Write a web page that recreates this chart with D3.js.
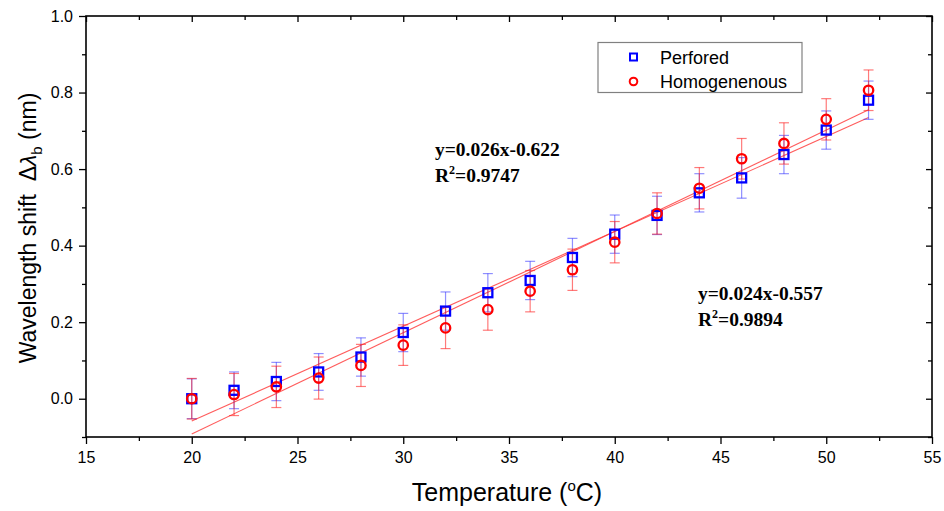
<!DOCTYPE html>
<html>
<head>
<meta charset="utf-8">
<script src="https://cdn.jsdelivr.net/npm/d3@7/dist/d3.min.js"></script>
<style>
  body { margin: 0; background: #fff; }
  svg { display: block; }
</style>
</head>
<body>
<div id="chart"></div>
<script>
// ── Data ─────────────────────────────────────────────────────────
const temps = [20, 22, 24, 26, 28, 30, 32, 34, 36, 38, 40, 42, 44, 46, 48, 50, 52];
const perfored = [0.0, 0.022, 0.045, 0.07, 0.109, 0.173, 0.229, 0.277, 0.309, 0.369, 0.43, 0.479, 0.538, 0.577, 0.638, 0.702, 0.78];
const homogen = [0.0, 0.011, 0.031, 0.054, 0.087, 0.14, 0.185, 0.233, 0.281, 0.337, 0.409, 0.484, 0.55, 0.627, 0.667, 0.73, 0.806];
const perforedErr = [0.052, 0.048, 0.05, 0.048, 0.05, 0.05, 0.05, 0.05, 0.05, 0.05, 0.05, 0.05, 0.05, 0.053, 0.05, 0.05, 0.05];
const homogenErr = [0.053, 0.055, 0.054, 0.055, 0.055, 0.053, 0.054, 0.054, 0.054, 0.054, 0.054, 0.054, 0.054, 0.053, 0.054, 0.054, 0.053];
const xTicks = [15, 20, 25, 30, 35, 40, 45, 50, 55];
const yTicks = [0.0, 0.2, 0.4, 0.6, 0.8, 1.0];
const legendNames = ['Perfored', 'Homogenenous'];
const fitEq = ['y=0.026x-0.622', 'y=0.024x-0.557'];
const fitR2 = ['0.9747', '0.9894'];

// ── Layout ───────────────────────────────────────────────────────
const W = 944, H = 511;
const m = { left: 86, right: 12, top: 16, bottom: 74 };
const iw = W - m.left - m.right, ih = H - m.top - m.bottom;

const svg = d3.select('#chart').append('svg').attr('width', W).attr('height', H);
const g = svg.append('g').attr('transform', `translate(${m.left},${m.top})`);

const x = d3.scaleLinear().domain([15, 55]).range([0, iw]);
const y = d3.scaleLinear().domain([-0.1, 1.0]).range([ih, 0]);

const FONT = 'Arial, "Liberation Sans", sans-serif';
const SERIF = '"Times New Roman", "Liberation Serif", serif';

// ── Axes ─────────────────────────────────────────────────────────
const xMinor = d3.range(17.5, 55, 5);
const yMinor = d3.range(-0.1, 1.0, 0.2).map(v => +v.toFixed(2));

function styleAxis(sel) {
  sel.selectAll('.domain').remove();
  sel.selectAll('line').attr('stroke', '#000').attr('stroke-width', 1.3);
  sel.selectAll('text').attr('font-family', FONT).attr('font-size', 16).attr('fill', '#000');
}

g.append('g').attr('transform', `translate(0,${ih})`)
  .call(d3.axisBottom(x).tickValues(xTicks).tickFormat(d3.format('d')).tickSize(7).tickPadding(8))
  .call(styleAxis);
g.append('g').attr('transform', `translate(0,${ih})`)
  .call(d3.axisBottom(x).tickValues(xMinor).tickFormat('').tickSize(4))
  .call(styleAxis);
g.append('g')
  .call(d3.axisLeft(y).tickValues(yTicks).tickFormat(d3.format('.1f')).tickSize(7).tickPadding(6))
  .call(styleAxis);
g.append('g')
  .call(d3.axisLeft(y).tickValues(yMinor).tickFormat('').tickSize(4))
  .call(styleAxis);
// mirrored inner ticks on right and top
g.append('g').attr('transform', `translate(${iw},0)`)
  .call(d3.axisLeft(y).tickValues(yTicks).tickFormat('').tickSize(6))
  .call(styleAxis);
g.append('g').attr('transform', `translate(${iw},0)`)
  .call(d3.axisLeft(y).tickValues(yMinor).tickFormat('').tickSize(4))
  .call(styleAxis);
g.append('g')
  .call(d3.axisBottom(x).tickValues(xTicks).tickFormat('').tickSize(6))
  .call(styleAxis);
g.append('g')
  .call(d3.axisBottom(x).tickValues(xMinor).tickFormat('').tickSize(4))
  .call(styleAxis);

// frame
g.append('rect').attr('width', iw).attr('height', ih)
  .attr('fill', 'none').attr('stroke', '#000').attr('stroke-width', 1.6);

// ── Axis titles ──────────────────────────────────────────────────
const xt = svg.append('text')
  .attr('x', m.left + iw / 2 - 2).attr('y', 501)
  .attr('text-anchor', 'middle')
  .attr('font-family', FONT).attr('font-size', 25).attr('fill', '#000');
xt.append('tspan').text('Temperature (');
xt.append('tspan').attr('font-size', 15).attr('dy', -10).text('o');
xt.append('tspan').attr('dy', 10).text('C)');

const yt = svg.append('text')
  .attr('transform', `translate(36,${m.top + 212}) rotate(-90)`)
  .attr('text-anchor', 'middle')
  .attr('font-family', FONT).attr('font-size', 23).attr('fill', '#000');
yt.append('tspan').text('Wavelength shift\u00a0\u00a0\u0394');
yt.append('tspan').attr('font-style', 'italic').text('\u03bb');
yt.append('tspan').attr('font-size', 15).attr('dy', 6).text('b');
yt.append('tspan').attr('dy', -6).text(' (nm)');

// ── Fit lines (least squares on each series) ─────────────────────
function linfit(xs, ys) {
  const mx = d3.mean(xs), my = d3.mean(ys);
  const sxy = d3.sum(xs, (v, i) => (v - mx) * (ys[i] - my));
  const sxx = d3.sum(xs, v => (v - mx) ** 2);
  const b = sxy / sxx;
  return { b, a: my - b * mx };
}
const xEnds = d3.extent(temps);
[perfored, homogen].forEach(series => {
  const f = linfit(temps, series);
  g.append('line')
    .attr('x1', x(xEnds[0])).attr('y1', y(f.a + f.b * xEnds[0]))
    .attr('x2', x(xEnds[1])).attr('y2', y(f.a + f.b * xEnds[1]))
    .attr('stroke', '#f33').attr('stroke-opacity', 0.8).attr('stroke-width', 1.1);
});

// ── Error bars ───────────────────────────────────────────────────
function errorBars(vals, errs, color, opacity) {
  const eg = g.append('g').attr('stroke', color).attr('stroke-opacity', opacity).attr('stroke-width', 1.2);
  temps.forEach((t, i) => {
    const cx = x(t), y0 = y(vals[i] - errs[i]), y1 = y(vals[i] + errs[i]);
    eg.append('line').attr('x1', cx).attr('x2', cx).attr('y1', y0).attr('y2', y1);
    eg.append('line').attr('x1', cx - 5).attr('x2', cx + 5).attr('y1', y0).attr('y2', y0);
    eg.append('line').attr('x1', cx - 5).attr('x2', cx + 5).attr('y1', y1).attr('y2', y1);
  });
}
errorBars(perfored, perforedErr, '#33f', 0.55);
errorBars(homogen, homogenErr, '#f22', 0.6);

// ── Markers ──────────────────────────────────────────────────────
g.selectAll('.sq').data(temps).enter().append('rect')
  .attr('class', 'sq')
  .attr('x', (d) => x(d) - 4.5).attr('y', (d, i) => y(perfored[i]) - 4.5)
  .attr('width', 9).attr('height', 9)
  .attr('fill', 'none').attr('stroke', '#00f').attr('stroke-width', 2.3);

g.selectAll('.ci').data(temps).enter().append('circle')
  .attr('class', 'ci')
  .attr('cx', d => x(d)).attr('cy', (d, i) => y(homogen[i]))
  .attr('r', 4.7)
  .attr('fill', 'none').attr('stroke', '#f00').attr('stroke-width', 2.3);

// ── Fit annotations ──────────────────────────────────────────────
const notes = [{ x: 435, y: 156 }, { x: 698, y: 300 }];
notes.forEach((p, i) => {
  const t = svg.append('g').attr('font-family', SERIF).attr('font-weight', 'bold')
    .attr('font-size', 19.5).attr('fill', '#000');
  t.append('text').attr('x', p.x).attr('y', p.y).text(fitEq[i]);
  const r = t.append('text').attr('x', p.x).attr('y', p.y + 26);
  r.append('tspan').text('R');
  r.append('tspan').attr('font-size', 12).attr('dy', -8).text('2');
  r.append('tspan').attr('dy', 8).text('=' + fitR2[i]);
});

// ── Legend ───────────────────────────────────────────────────────
const lg = svg.append('g');
lg.append('rect').attr('x', 598).attr('y', 42.5).attr('width', 204).attr('height', 50)
  .attr('fill', '#fff').attr('stroke', '#808080').attr('stroke-width', 1.2);
legendNames.forEach((name, i) => {
  const cy = 57 + i * 24.5;
  if (i === 0) {
    lg.append('rect').attr('x', 630).attr('y', cy - 3.5).attr('width', 7).attr('height', 7)
      .attr('fill', 'none').attr('stroke', '#00f').attr('stroke-width', 2);
  } else {
    lg.append('circle').attr('cx', 633.5).attr('cy', cy).attr('r', 3.8)
      .attr('fill', 'none').attr('stroke', '#f00').attr('stroke-width', 2);
  }
  lg.append('text').attr('x', 660).attr('y', cy + 6.5)
    .attr('font-family', FONT).attr('font-size', 18).attr('fill', '#000').text(name);
});
</script>
</body>
</html>
